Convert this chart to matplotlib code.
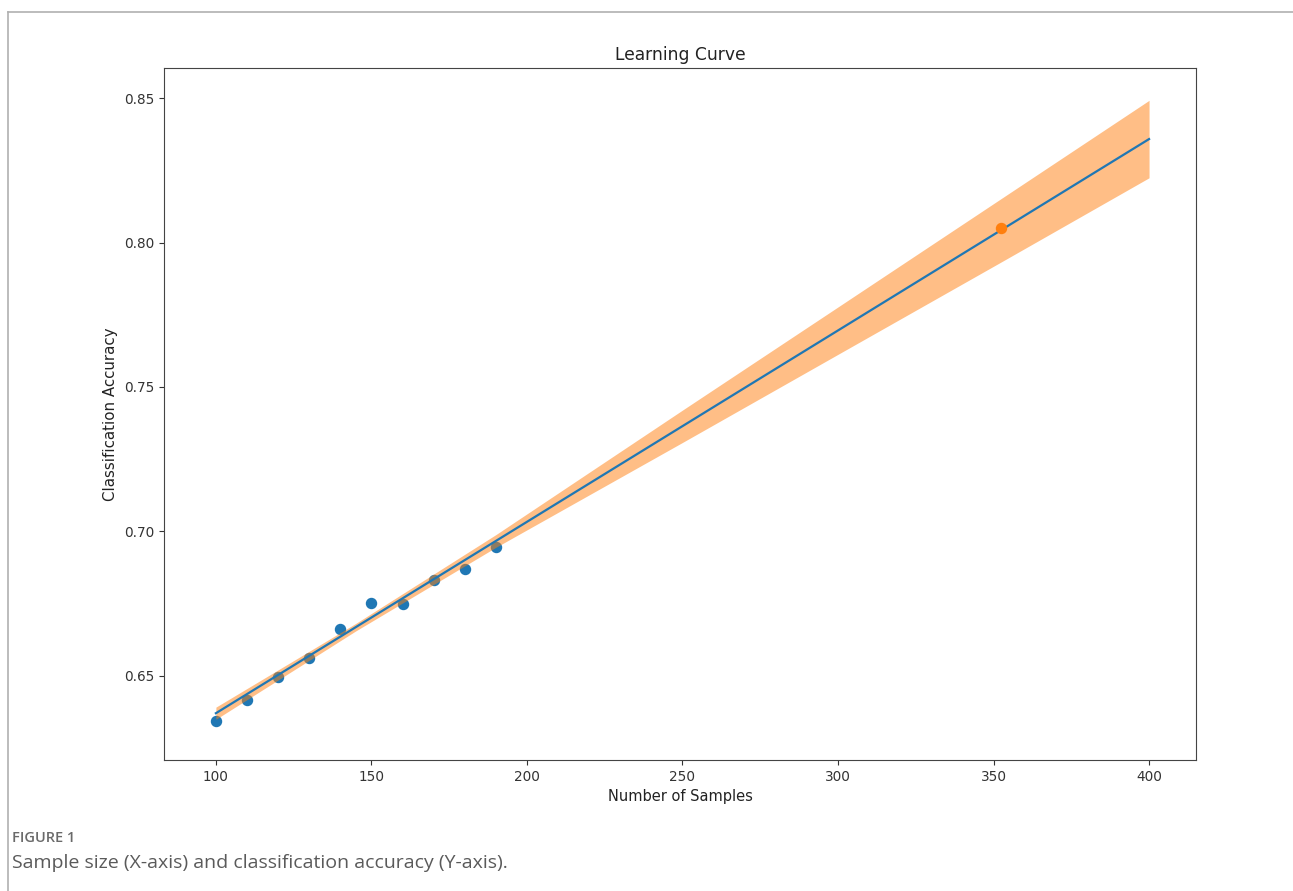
import matplotlib
matplotlib.use('Agg')
import matplotlib.pyplot as plt
from matplotlib.lines import Line2D

# observed accuracies
sample_sizes = [100, 110, 120, 130, 140, 150, 160, 170, 180, 190]
accuracies = [0.6344, 0.6417, 0.6497, 0.6562, 0.6663, 0.6753, 0.6750, 0.6833, 0.6871, 0.6946]

# projected point
proj_x = [352.5]
proj_y = [0.805]

# fitted curve
fit_x = [100, 400]
fit_y = [0.6371, 0.8358]

# confidence band
band_x = [100, 145, 190, 250, 300, 353, 400]
band_lo = [0.6350, 0.6656, 0.6945, 0.7308, 0.7613, 0.7936, 0.8224]
band_hi = [0.6392, 0.6682, 0.6989, 0.7420, 0.7777, 0.8156, 0.8492]

fig = plt.figure(figsize=(12.93, 8.91), dpi=100)
ax = fig.add_axes([0.1268, 0.147, 0.7982, 0.7767])

ax.scatter(sample_sizes, accuracies, s=52, color='#1f77b4', zorder=1)
ax.fill_between(band_x, band_lo, band_hi, color='#ff7f0e', alpha=0.5, linewidth=0, zorder=2)
ax.plot(fit_x, fit_y, color='#1f77b4', linewidth=1.6, zorder=3)
ax.scatter(proj_x, proj_y, s=52, color='#ff7f0e', zorder=4)

ax.set_xlim(83.3, 415.1)
ax.set_ylim(0.6209, 0.8604)
ax.set_xticks([100, 150, 200, 250, 300, 350, 400])
ax.set_yticks([0.65, 0.70, 0.75, 0.80, 0.85])
ax.set_yticklabels(['0.65', '0.70', '0.75', '0.80', '0.85'])
ax.tick_params(labelsize=9.8, colors='#333333')
for sp in ax.spines.values():
    sp.set_color('#444444')
ax.set_title('Learning Curve', fontsize=12.3, color='#222222')
ax.set_xlabel('Number of Samples', fontsize=10.5, color='#222222')
ax.set_ylabel('Classification Accuracy', fontsize=10.8, color='#222222')

# page frame
fig.add_artist(Line2D([8 / 1293, 1], [1 - 12 / 891, 1 - 12 / 891], color='#b0b0b0', linewidth=1.2))
fig.add_artist(Line2D([8 / 1293, 8 / 1293], [0, 1 - 12 / 891], color='#b0b0b0', linewidth=1.2))

# caption
fig.text(12 / 1293, 1 - 838 / 891, 'FIGURE 1', fontsize=10.5, fontweight='semibold',
         family='Open Sans', color='#6a6a6a', va='center')
fig.text(12 / 1293, 1 - 863 / 891, 'Sample size (X-axis) and classification accuracy (Y-axis).',
         fontsize=14, family='Open Sans', color='#5a5a5a', va='center')

plt.savefig('out.png', dpi=100)
plt.close()
